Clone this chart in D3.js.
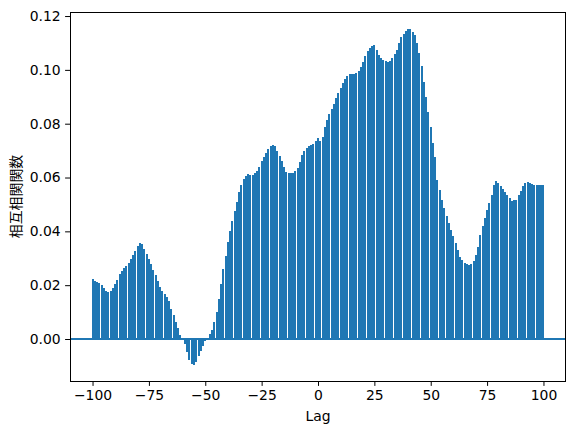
<!DOCTYPE html>
<html>
<head>
<meta charset="utf-8">
<script src="https://cdn.jsdelivr.net/npm/d3@7"></script>
<style>
  html, body { margin: 0; padding: 0; background: #fff; }
  svg { display: block; }
  .tick text { font-family: "DejaVu Sans", sans-serif; font-size: 13.9px; fill: #000; }
</style>
</head>
<body>
<svg id="chart" width="575" height="435"></svg>
<script>
// ---- data ----
const lags = d3.range(-100, 101);
const corrValues = [
  0.0223, 0.0215, 0.0211, 0.0207, 0.0200, 0.0188, 0.0180, 0.0176, 0.0178, 0.0188,
  0.0204, 0.0220, 0.0240, 0.0252, 0.0262, 0.0271, 0.0284, 0.0298, 0.0313, 0.0328,
  0.0345, 0.0355, 0.0352, 0.0335, 0.0315, 0.0297, 0.0277, 0.0257, 0.0236, 0.0215,
  0.0195, 0.0180, 0.0168, 0.0157, 0.0140, 0.0110, 0.0090, 0.0065, 0.0040, 0.0015,
  -0.0003, -0.0020, -0.0050, -0.0078, -0.0093, -0.0095, -0.0085, -0.0065, -0.0045, -0.0025,
  -0.0008, 0.0005, 0.0020, 0.0035, 0.0064, 0.0100, 0.0150, 0.0205, 0.0260, 0.0310,
  0.0360, 0.0400, 0.0440, 0.0475, 0.0510, 0.0545, 0.0572, 0.0593, 0.0605, 0.0612,
  0.0609, 0.0610, 0.0615, 0.0625, 0.0640, 0.0660, 0.0675, 0.0690, 0.0705, 0.0717,
  0.0721, 0.0716, 0.0700, 0.0680, 0.0660, 0.0638, 0.0622, 0.0617, 0.0617, 0.0618,
  0.0625, 0.0637, 0.0656, 0.0685, 0.0700, 0.0710, 0.0716, 0.0720, 0.0726, 0.0735,
  0.0745,
  0.0735, 0.0750, 0.0789, 0.0814, 0.0835, 0.0855, 0.0875, 0.0894, 0.0913, 0.0933,
  0.0950, 0.0967, 0.0979, 0.0986, 0.0985, 0.0986, 0.0988, 0.0995, 0.1010, 0.1030,
  0.1050, 0.1070, 0.1082, 0.1088, 0.1092, 0.1072, 0.1057, 0.1043, 0.1037, 0.1033,
  0.1030, 0.1034, 0.1045, 0.1060, 0.1075, 0.1099, 0.1123, 0.1135, 0.1145, 0.1151,
  0.1150, 0.1141, 0.1129, 0.1099, 0.1061, 0.1014, 0.0956, 0.0898, 0.0844, 0.0789,
  0.0729, 0.0677, 0.0591, 0.0554, 0.0516, 0.0486, 0.0457, 0.0430, 0.0405, 0.0383,
  0.0358, 0.0331, 0.0306, 0.0293, 0.0283, 0.0279, 0.0275, 0.0277, 0.0290, 0.0312,
  0.0343, 0.0386, 0.0420, 0.0450, 0.0479, 0.0506, 0.0535, 0.0572, 0.0588, 0.0581,
  0.0568, 0.0556, 0.0547, 0.0535, 0.0523, 0.0514, 0.0516, 0.0518, 0.0535, 0.0551,
  0.0568, 0.0581, 0.0584, 0.0581, 0.0576, 0.0572, 0.0572, 0.0572, 0.0572, 0.0572
];
const xTicks = [-100, -75, -50, -25, 0, 25, 50, 75, 100];
const yTicks = [0.00, 0.02, 0.04, 0.06, 0.08, 0.10, 0.12];
const xLabel = "Lag";
const yLabel = "相互相関関数";

// ---- layout ----
const mLeft = 70, mRight = 566, mTop = 12, mBottom = 381;
const color = "#1f77b4";
const svg = d3.select("#chart");

const x = d3.scaleLinear().domain([-110, 110]).range([mLeft, mRight]);
const y = d3.scaleLinear().domain([-0.0156, 0.1215]).range([mBottom, mTop]);

const data = lags.map((l, i) => ({ lag: l, v: corrValues[i] }));

// vertical lines (snapped 2px wide)
svg.append("g").selectAll("rect").data(data).join("rect")
  .attr("x", d => Math.round(x(d.lag)) - 1)
  .attr("width", 2)
  .attr("y", d => Math.round(Math.min(y(d.v), y(0))))
  .attr("height", d => Math.max(0, Math.round(Math.abs(y(d.v) - y(0)))))
  .attr("fill", color)
  .attr("shape-rendering", "crispEdges");

// horizontal zero line
svg.append("rect")
  .attr("x", mLeft).attr("width", mRight - mLeft)
  .attr("y", Math.round(y(0)) - 1).attr("height", 2)
  .attr("fill", color).attr("shape-rendering", "crispEdges");

// axes
const fmtX = d => d < 0 ? "\u2212" + Math.abs(d) : String(d);
const xAxis = svg.append("g")
  .attr("transform", `translate(0,${mBottom})`)
  .call(d3.axisBottom(x).tickValues(xTicks).tickFormat(fmtX).tickSize(4.9).tickPadding(4.5));
const yAxis = svg.append("g")
  .attr("transform", `translate(${mLeft},0)`)
  .call(d3.axisLeft(y).tickValues(yTicks).tickFormat(d3.format(".2f")).tickSize(4.9).tickPadding(4.5));
[xAxis, yAxis].forEach(a => {
  a.select(".domain").remove();
  a.selectAll(".tick line").attr("stroke", "#000").attr("stroke-width", 1);
});

// frame
svg.append("rect")
  .attr("x", mLeft + 0.5).attr("y", mTop + 0.5)
  .attr("width", mRight - mLeft - 1).attr("height", mBottom - mTop)
  .attr("fill", "none").attr("stroke", "#000").attr("stroke-width", 1);

// labels
svg.append("text")
  .attr("x", (mLeft + mRight) / 2).attr("y", 421)
  .attr("text-anchor", "middle")
  .attr("font-family", "DejaVu Sans, sans-serif").attr("font-size", 13.9)
  .text(xLabel);
svg.append("text")
  .attr("transform", `translate(21,${(mTop + mBottom) / 2}) rotate(-90)`)
  .attr("text-anchor", "middle")
  .attr("font-family", "Noto Sans CJK JP, sans-serif").attr("font-size", 13.9)
  .text(yLabel);
</script>
</body>
</html>
